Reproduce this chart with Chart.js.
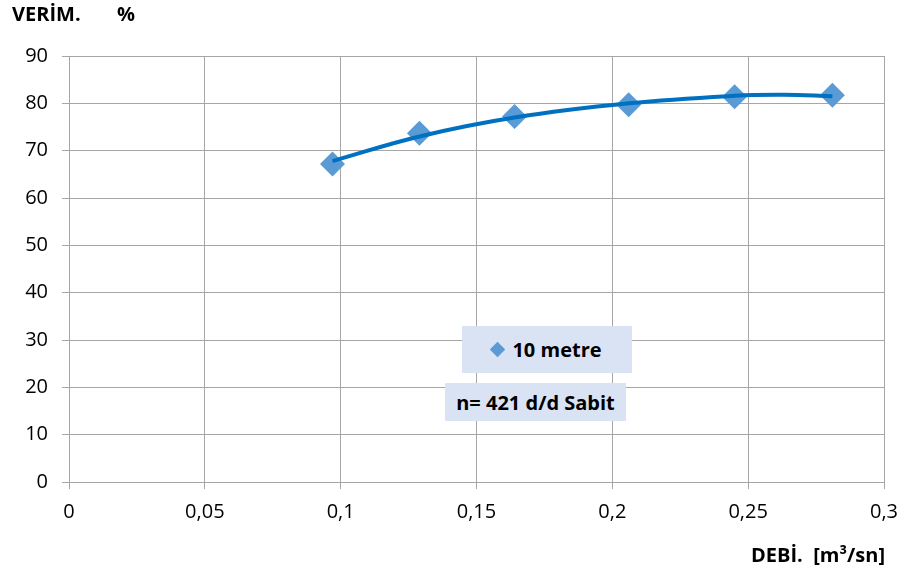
<!DOCTYPE html>
<html>
<head>
<meta charset="utf-8">
<script src="https://cdn.jsdelivr.net/npm/chart.js@4.4.0/dist/chart.umd.min.js"></script>
<style>
  body { margin: 0; background: #fff; }
  #wrap { position: relative; width: 904px; height: 576px; font-family: "Open Sans", sans-serif; }
  .lbl { position: absolute; font-weight: bold; font-size: 20px; color: #000; white-space: pre; line-height: 1; }
  .box { position: absolute; background: #dae3f3; font-weight: bold; font-size: 20px; color: #000; display: flex; align-items: center; justify-content: center; white-space: pre; }
  .dia { display: inline-block; width: 11px; height: 11px; background: #5b9bd5; transform: rotate(45deg); margin-right: 9px; }
</style>
</head>
<body>
<div id="wrap">
  <canvas id="chart" width="904" height="576"></canvas>
  <div class="lbl" style="left:12px; top:4px;">VERİM.</div>
  <div class="lbl" style="left:117px; top:4px;">%</div>
  <div class="lbl" style="right:19px; top:545px;">DEBİ.  [m³/sn]</div>
  <div class="box" style="left:462px; top:326px; width:170px; height:47px;"><span class="dia"></span>10 metre</div>
  <div class="box" style="left:445px; top:383px; width:181px; height:38px;">n= 421 d/d Sabit</div>
</div>
<script>
// debi (m3/sn) ve verim (%) degerleri
const debi = [0.097, 0.129, 0.164, 0.206, 0.245, 0.281];
const verim = [67.2, 73.7, 77.2, 79.7, 81.4, 81.7];

// egilim cizgisi (trend) noktalari
const trendDebi = [0.097, 0.129, 0.164, 0.206, 0.245, 0.263, 0.281];
const trendVerim = [67.8, 73.0, 77.0, 80.0, 81.6, 81.8, 81.5];

const xTicks = [0, 0.05, 0.1, 0.15, 0.2, 0.25, 0.3];
const yTicks = [0, 10, 20, 30, 40, 50, 60, 70, 80, 90];

const gridKleur = '#a6a6a6';
const tickFont = { family: 'Open Sans', size: 20 };

function komma(v) {
  return (Math.round(v * 100) / 100).toString().replace('.', ',');
}

const ctx = document.getElementById('chart');
new Chart(ctx, {
  type: 'scatter',
  data: {
    datasets: [
      {
        label: 'trend',
        data: trendDebi.map((x, i) => ({ x: x, y: trendVerim[i] })),
        showLine: true,
        borderColor: '#0070c0',
        borderWidth: 4,
        pointRadius: 0,
        tension: 0.4,
        order: 1
      },
      {
        label: '10 metre',
        data: debi.map((x, i) => ({ x: x, y: verim[i] })),
        pointStyle: 'rectRot',
        pointRadius: 12.5,
        backgroundColor: '#5b9bd5',
        borderColor: '#5b9bd5',
        borderWidth: 0,
        order: 2
      }
    ]
  },
  options: {
    responsive: false,
    animation: false,
    devicePixelRatio: 1,
    layout: { padding: { left: 0, top: 56, right: 20, bottom: 0 } },
    plugins: { legend: { display: false }, tooltip: { enabled: false } },
    scales: {
      x: {
        type: 'linear',
        min: 0,
        max: 0.3,
        afterBuildTicks: (s) => { s.ticks = xTicks.map(v => ({ value: v })); },
        afterFit: (s) => { s.height = 94; s.paddingLeft = 0; s.paddingRight = 0; },
        ticks: { color: '#000', font: tickFont, padding: 11, maxRotation: 0, callback: (v) => komma(v) },
        grid: { color: gridKleur, lineWidth: 1, tickLength: 7 },
        border: { color: gridKleur }
      },
      y: {
        min: 0,
        max: 90,
        afterBuildTicks: (s) => { s.ticks = yTicks.map(v => ({ value: v })); },
        afterFit: (s) => { s.width = 69; },
        ticks: { color: '#000', font: tickFont, padding: 14 },
        grid: { color: gridKleur, lineWidth: 1, tickLength: 7 },
        border: { color: gridKleur }
      }
    }
  }
});
</script>
</body>
</html>
